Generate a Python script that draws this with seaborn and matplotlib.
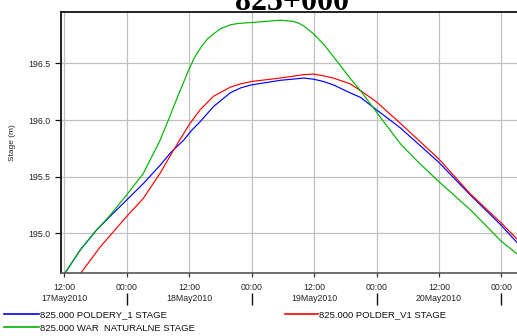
import numpy as np
import pandas as pd
import matplotlib
matplotlib.use("Agg")
import matplotlib.pyplot as plt
import matplotlib.dates as mdates
from matplotlib.lines import Line2D
import seaborn as sns

# ---- data (hours after 17May2010 12:00, stage in m) ----
start = pd.Timestamp("2010-05-17 12:00")

green_h = [0, 3, 6.2, 8.8, 12, 15.2, 18.4, 20, 22, 23.8, 25, 26.4, 27.5, 28.7, 30, 31.9,
           33.5, 36, 41.5, 44, 45, 46, 47.9, 50, 51.7, 54.9, 56.9, 60, 64.6, 68, 71.9, 78,
           84, 87]
green_v = [194.64, 194.85, 195.03, 195.16, 195.34, 195.53, 195.82, 196.00, 196.23, 196.43,
           196.55, 196.65, 196.715, 196.76, 196.805, 196.84, 196.852, 196.86, 196.88,
           196.87, 196.855, 196.83, 196.76, 196.66, 196.56, 196.37, 196.26, 196.07, 195.79,
           195.63, 195.46, 195.21, 194.93, 194.82]

blue_h = [0, 3, 6.2, 8.8, 12, 15.2, 18.4, 20.6, 22.9, 24.5, 26.1, 28.7, 31.9, 34, 36, 41.5,
          46, 47.9, 49.8, 51.7, 54.9, 56.9, 60, 64.6, 71.9, 78, 84, 87]
blue_v = [194.64, 194.85, 195.03, 195.15, 195.295, 195.44, 195.60, 195.72, 195.82, 195.91,
          195.985, 196.12, 196.24, 196.285, 196.31, 196.35, 196.37, 196.36, 196.34, 196.31,
          196.24, 196.20, 196.09, 195.93, 195.63, 195.34, 195.07, 194.92]

red_h = [3.0, 6.9, 12, 15.2, 18.4, 21, 24, 26.1, 28.7, 31.9, 34, 36, 41.5, 46, 47.9, 49.8,
         51.7, 54.9, 56.9, 60, 64.6, 71.9, 78, 84, 87]
red_v = [194.64, 194.88, 195.15, 195.31, 195.53, 195.735, 195.96, 196.09, 196.21, 196.29,
         196.32, 196.34, 196.37, 196.40, 196.405, 196.39, 196.37, 196.32, 196.26, 196.16,
         195.97, 195.66, 195.35, 195.09, 194.95]

series_names = ["825.000 POLDERY_1 STAGE", "825.000 POLDER_V1 STAGE",
                "825.000 WAR  NATURALNE STAGE"]
series_colors = ["#0000ff", "#ff0000", "#00b400"]

tick_hours = [0, 12, 24, 36, 48, 60, 72, 84]
tick_times = ["12:00", "00:00", "12:00", "00:00", "12:00", "00:00", "12:00", "00:00"]
tick_dates = ["17May2010", "", "18May2010", "", "19May2010", "", "20May2010", ""]
y_ticks = [195.0, 195.5, 196.0, 196.5]

title = "825+000"
ylabel = "Stage (m)"

# ---- build long table ----
frames = []
for name, hh, vv in zip(series_names, [blue_h, red_h, green_h], [blue_v, red_v, green_v]):
    frames.append(pd.DataFrame({
        "time": [start + pd.Timedelta(hours=h) for h in hh],
        "stage": vv,
        "series": name,
    }))
df = pd.concat(frames, ignore_index=True)

W, H = 517, 336
fig = plt.figure(figsize=(W / 100, H / 100), dpi=100)
ax = fig.add_axes([60.7 / W, 1 - 273.3 / H, 1 - 60.7 / W, (273.3 - 12.3) / H])

palette = dict(zip(series_names, series_colors))
sns.lineplot(data=df, x="time", y="stage", hue="series", palette=palette,
             hue_order=series_names, sort=False, estimator=None, legend=False,
             linewidth=0.85, ax=ax)

ax.set_xlim(start - pd.Timedelta(hours=0.69), start + pd.Timedelta(hours=87))
ax.set_ylim(194.648, 196.95)

font = "Liberation Sans"
xt = [start + pd.Timedelta(hours=h) for h in tick_hours]
ax.set_xticks(xt)
ax.set_xticklabels([t + ("\n" + d if d else "") for t, d in zip(tick_times, tick_dates)],
                   fontsize=6.3, family=font, color="#222222", linespacing=1.35, va="top")
ax.set_yticks(y_ticks)
ax.set_yticklabels([f"{v:.1f}" for v in y_ticks], fontsize=6.3, family=font, color="#222222")
ax.tick_params(axis="x", length=3, width=0.9, pad=4, color="#333333")
ax.tick_params(axis="y", length=4.3, width=0.9, pad=3, color="#111111")
ax.set_xlabel("")
ax.set_ylabel(ylabel, fontsize=6.0, family=font, color="#222222")
ax.yaxis.set_label_coords(-0.098, 0.5)

ax.grid(True, color="#c0c0c0", linewidth=0.9)
ax.set_axisbelow(True)
for s in ["left", "top"]:
    ax.spines[s].set_color("#111111")
    ax.spines[s].set_linewidth(1.3)
ax.spines["bottom"].set_color("#555555")
ax.spines["bottom"].set_linewidth(1.2)
ax.spines["right"].set_visible(False)

# long day-separator ticks below the labels at 00:00
sec = ax.secondary_xaxis((273.3 - 305) / 261.0)
sec.set_xticks([mdates.date2num(start + pd.Timedelta(hours=h))
                for h, t in zip(tick_hours, tick_times) if t == "00:00"])
sec.tick_params(axis="x", direction="in", length=8.6, width=1.0, color="#111111",
                labelbottom=False, labeltop=False)
sec.spines["bottom"].set_visible(False)

fig.text(291.5 / W, 1 - 10.5 / H, title, ha="center", va="baseline",
         fontsize=23, fontweight="bold", family="Liberation Serif")

handles = [Line2D([], [], color=c, linewidth=1.2) for c in series_colors]
leg1 = fig.legend([handles[0], handles[2]], [series_names[0], series_names[2]],
                  loc="upper left", bbox_to_anchor=(4 / W, 1 - 310 / H), frameon=False,
                  prop={"family": font, "size": 6.8}, handlelength=3.7, handletextpad=0.1,
                  borderpad=0, borderaxespad=0, labelspacing=0.5)
leg2 = fig.legend([handles[1]], [series_names[1]],
                  loc="upper left", bbox_to_anchor=(285 / W, 1 - 310 / H), frameon=False,
                  prop={"family": font, "size": 6.8}, handlelength=3.5, handletextpad=0.1,
                  borderpad=0, borderaxespad=0)
for lg in (leg1, leg2):
    for t in lg.get_texts():
        t.set_color("#111111")

fig.savefig("out.png", dpi=100)
